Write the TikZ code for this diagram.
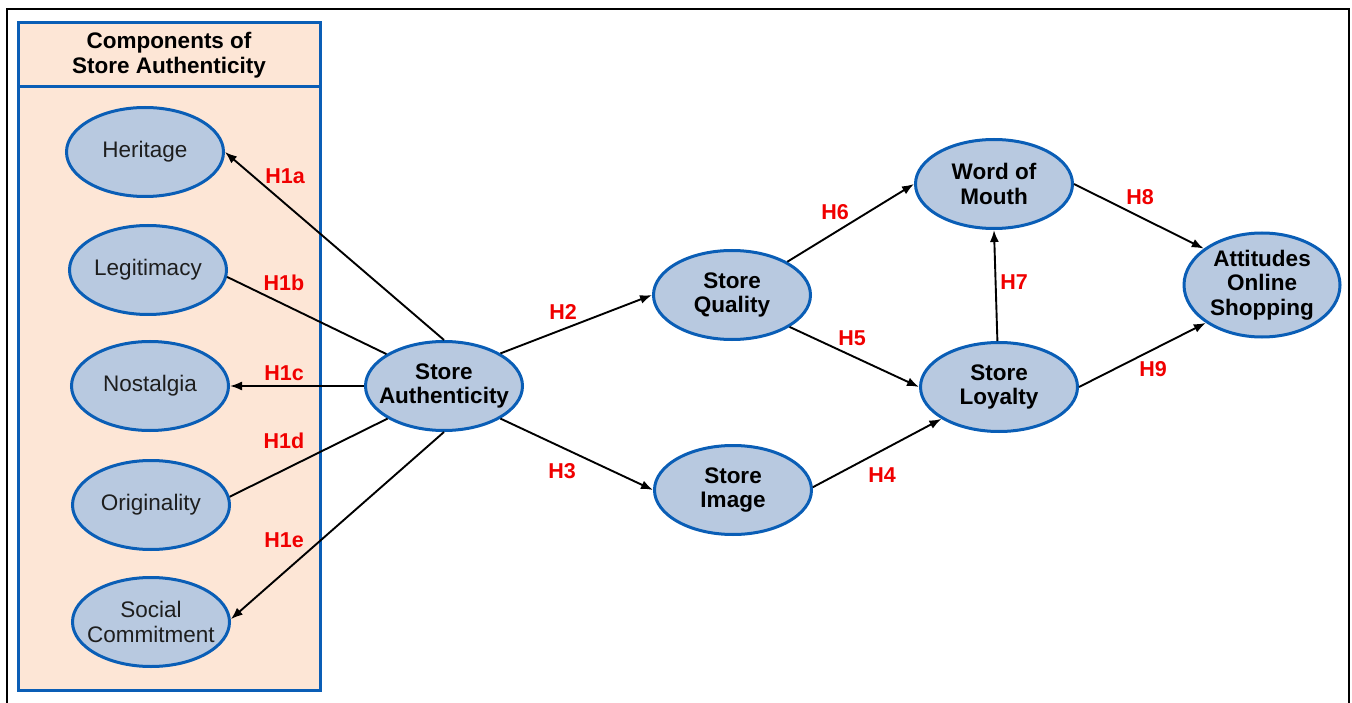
\documentclass[tikz,border=0pt]{standalone}
\usepackage{fontspec}
\setmainfont{Liberation Sans}
\usetikzlibrary{arrows.meta,shapes.geometric}
\definecolor{panelfill}{RGB}{253,230,214}
\definecolor{bblue}{RGB}{10,94,182}
\definecolor{efill}{RGB}{184,201,224}
\definecolor{hred}{RGB}{240,0,0}
\definecolor{tgray}{RGB}{30,30,30}
\tikzset{
  every node/.style={font=\fontsize{22.5}{24.5}\selectfont},
  ell/.style={ellipse,draw=bblue,line width=3pt,fill=efill,inner xsep=-20pt,inner ysep=-10pt,minimum width=157pt,minimum height=89pt,align=center,text=tgray},
  bell/.style={ell,text=black,font=\bfseries\fontsize{22.5}{24.5}\selectfont},
  hyp/.style={text=hred,font=\bfseries\fontsize{21.5}{24}\selectfont},
  arr/.style={line width=1.9pt,-{Latex[length=12pt,width=9pt]}},
  ln/.style={line width=1.9pt}
}
\begin{document}
\begin{tikzpicture}[x=1pt,y=-1pt]
\useasboundingbox (0,0) rectangle (1352,703);
\fill[white] (0,0) rectangle (1352,703);
% outer frame
\draw[line width=2pt,black] (7,720) -- (7,9) -- (1349,9) -- (1349,720);
% panel
\draw[bblue,line width=3pt,fill=panelfill] (18,23) rectangle (320,690);
\draw[bblue,line width=3pt] (18,87) -- (320,87);
\node[font=\bfseries\fontsize{22.5}{24.5}\selectfont,align=center] (title) at (169,55) {Components of\\Store Authenticity};
% component nodes
\node[ell] (her) at (145,152) {Heritage};
\node[ell] (leg) at (148,270) {Legitimacy};
\node[ell] (nos) at (150,386) {Nostalgia};
\node[ell] (ori) at (151,505) {Originality};
\node[ell] (soc) at (151,622) {Social\\Commitment};
% main nodes
\node[bell] (sa) at (444,386) {Store\\Authenticity};
\node[bell] (sq) at (732,295) {Store\\Quality};
\node[bell] (si) at (733,490) {Store\\Image};
\node[bell] (wom) at (994,184) {Word of\\Mouth};
\node[bell] (sl) at (999,387) {Store\\Loyalty};
\node[bell,minimum width=156pt,minimum height=104pt] (att) at (1262,285) {Attitudes\\Online\\Shopping};
% connectors
\draw[arr] (sa.90) -- (her.east);
\draw[ln] (sa.151) -- (leg.-5);
\draw[arr] (sa.180) -- (nos.east);
\draw[ln] (sa.210) -- (ori.6);
\draw[arr] (sa.270) -- (soc.2);
\draw[arr] (sa.30) -- (sq.west);
\draw[arr] (sa.-30) -- (si.west);
\draw[arr] (sq.31) -- (wom.west);
\draw[arr] (sq.-29) -- (sl.west);
\draw[arr] (si.2) -- (sl.209);
\draw[arr] (sl.92) -- (wom.270);
\draw[arr] (wom.east) -- (att.148);
\draw[arr] (sl.east) -- (att.214);
% labels
\node[hyp] (l1a) at (285,176) {H1a};
\node[hyp] (l1b) at (284,283) {H1b};
\node[hyp] (l1c) at (284,373) {H1c};
\node[hyp] (l1d) at (284,441) {H1d};
\node[hyp] (l1e) at (284,540) {H1e};
\node[hyp] (l2) at (563,312) {H2};
\node[hyp] (l3) at (562,471) {H3};
\node[hyp] (l4) at (882,475) {H4};
\node[hyp] (l5) at (852,338) {H5};
\node[hyp] (l6) at (835,212) {H6};
\node[hyp] (l7) at (1014,282) {H7};
\node[hyp] (l8) at (1140,197) {H8};
\node[hyp] (l9) at (1153,369) {H9};
\end{tikzpicture}
\end{document}
